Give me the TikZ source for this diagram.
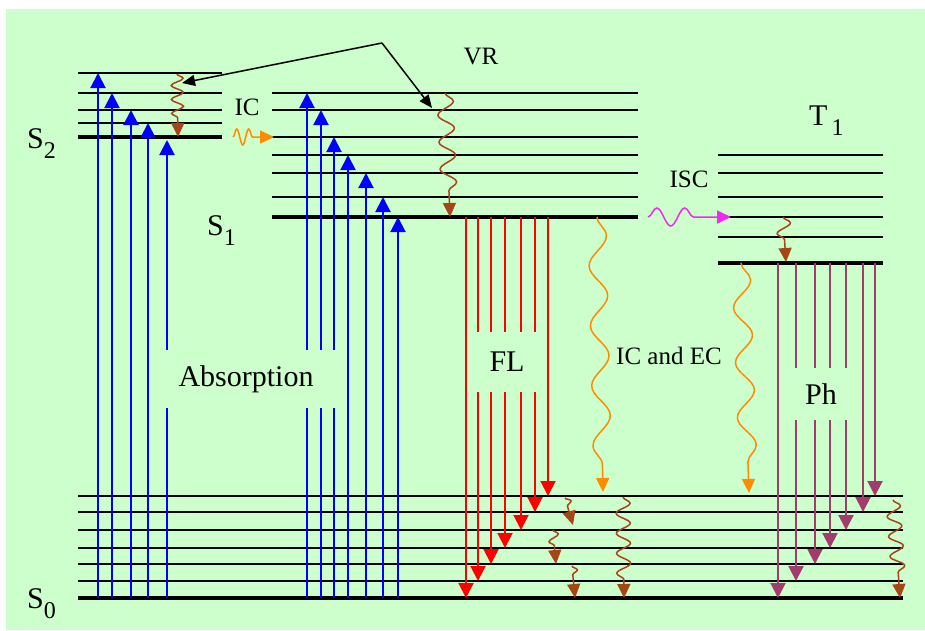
\documentclass[tikz,border=0pt]{standalone}
\usepackage{tikz}
\usepackage{xcolor}
\usepackage{fontspec}
\setmainfont{Liberation Serif}
\usetikzlibrary{arrows.meta,decorations.pathmorphing}

\newcommand{\lvlname}[2]{#1\raisebox{-10pt}{\fontsize{24}{24}\selectfont #2}}

\begin{document}
\begin{tikzpicture}[x=1pt,y=-1pt,
    lvl/.style={line width=1.6pt},
    lvlzero/.style={line width=3.8pt},
    bigtip/.style={-{Triangle[length=15pt,width=15pt]}},
    smalltip/.style={-{Triangle[length=14pt,width=13pt]}},
    absarrow/.style={bigtip, blue, line width=2pt},
    flarrow/.style={bigtip, red, line width=2pt},
    pharrow/.style={bigtip, phPurple, line width=2pt},
    wave/.style 2 args={decorate, decoration={snake, amplitude=#1, segment length=#2, post length=17pt}},
    brownwave/.style={smalltip, waveBrown, line width=1.5pt},
    orangewave/.style={smalltip, waveOrange, line width=1.5pt},
    lvllabel/.style={font=\fontsize{30}{32}\selectfont, anchor=base west, inner sep=0pt},
    smalllabel/.style={font=\fontsize{25}{27}\selectfont, inner sep=0pt},
    boxlabel/.style={fill=bgGreen, font=\fontsize{30}{32}\selectfont, inner sep=0pt}]
  \definecolor{bgGreen}{RGB}{204,255,204}
  \definecolor{waveBrown}{RGB}{165,70,20}
  \definecolor{waveOrange}{RGB}{255,140,0}
  \definecolor{iscMagenta}{RGB}{240,40,240}
  \definecolor{phPurple}{RGB}{160,60,110}
  \useasboundingbox (0,0) rectangle (925,630);
  \fill[bgGreen] (6,9) rectangle (925,630);

  % levels
  \foreach \y in {496,512,530,548,564,581}
    \draw[lvl] (78,\y) -- (903,\y);
  \draw[lvlzero] (78,598) -- (903,598);
  \foreach \y in {73,93,110,123}
    \draw[lvl] (78,\y) -- (222,\y);
  \draw[lvlzero] (78,137) -- (222,137);
  \foreach \y in {93,110,137,155,173,197}
    \draw[lvl] (272,\y) -- (638,\y);
  \draw[lvlzero] (272,217) -- (638,217);
  \foreach \y in {155,173,197,217,237}
    \draw[lvl] (718,\y) -- (883,\y);
  \draw[lvlzero] (718,263) -- (883,263);

  % absorption, fluorescence, phosphorescence
  \foreach \x/\y in {98/73,112/93,131/110,148/123,167/140,307/93,321/110,334/137,348/155,366/173,383/197,398/217}
    \draw[absarrow] (\x,598) -- (\x,\y);
  \foreach \x/\y in {466/598,478/581,491/564,505/548,521/530,535/512,548/496}
    \draw[flarrow] (\x,217) -- (\x,\y);
  \foreach \x/\y in {778/598,796/581,815/564,830/548,846/530,863/512,875/496}
    \draw[pharrow] (\x,263) -- (\x,\y);

  % wavy transitions
  \draw[brownwave, wave={6pt}{14pt}] (177,74) -- (178,137);
  \draw[orangewave, wave={8pt}{12pt}] (233,137) -- (274,137);
  \draw[brownwave, wave={8pt}{27pt}] (445,93) -- (450,217);
  \draw[smalltip, iscMagenta, line width=1.5pt, decorate,
        decoration={snake, amplitude=9pt, segment length=28pt, post length=25pt}] (648,217) -- (731,217);
  \draw[orangewave, wave={9pt}{60pt}] (597,217) -- (603,492);
  \draw[orangewave, wave={9pt}{55pt}] (741,263) -- (749,493);
  \draw[brownwave, wave={7pt}{20pt}] (783,217) -- (786,262);
  \draw[brownwave, wave={5pt}{14pt}] (565,498) -- (573,525);
  \draw[brownwave, wave={5pt}{14pt}] (553,530) -- (556,564);
  \draw[brownwave, wave={5pt}{14pt}] (572,566) -- (575,598);
  \draw[brownwave, wave={7pt}{20pt}] (623,497) -- (624,598);
  \draw[brownwave, wave={7pt}{20pt}] (893,500) -- (900,598);

  % vibrational relaxation pointers
  \coordinate (vrTop) at (382,43);
  \coordinate (vrSTwo) at (182,83);
  \coordinate (vrSOne) at (432,108);
  \draw[black, line width=1.5pt, -{Triangle[length=13pt,width=11pt]}] (vrTop) -- (vrSTwo);
  \draw[black, line width=1.5pt, -{Triangle[length=13pt,width=11pt]}] (vrTop) -- (vrSOne);

  % labels
  \node[lvllabel] (sTwo) at (27,148) {\lvlname{S}{2}};
  \node[lvllabel] (sOne) at (207,235) {\lvlname{S}{1}};
  \node[lvllabel] (sZero) at (27,608) {\lvlname{S}{0}};
  \node[lvllabel] (tOne) at (809,125) {\lvlname{T}{\,1}};
  \node[smalllabel] (icLabel) at (247,107) {IC};
  \node[smalllabel] (vrLabel) at (481,56) {VR};
  \node[smalllabel] (iscLabel) at (689,179) {ISC};
  \node[smalllabel] (icecLabel) at (669,356) {IC and EC};
  \node[boxlabel, minimum width=188pt, minimum height=58pt] (absLabel) at (246,379) {Absorption};
  \node[boxlabel, minimum width=78pt, minimum height=60pt] (flLabel) at (507,362) {FL};
  \node[boxlabel, minimum width=79pt, minimum height=52pt] (phLabel) at (821,394) {Ph};
\end{tikzpicture}
\end{document}
